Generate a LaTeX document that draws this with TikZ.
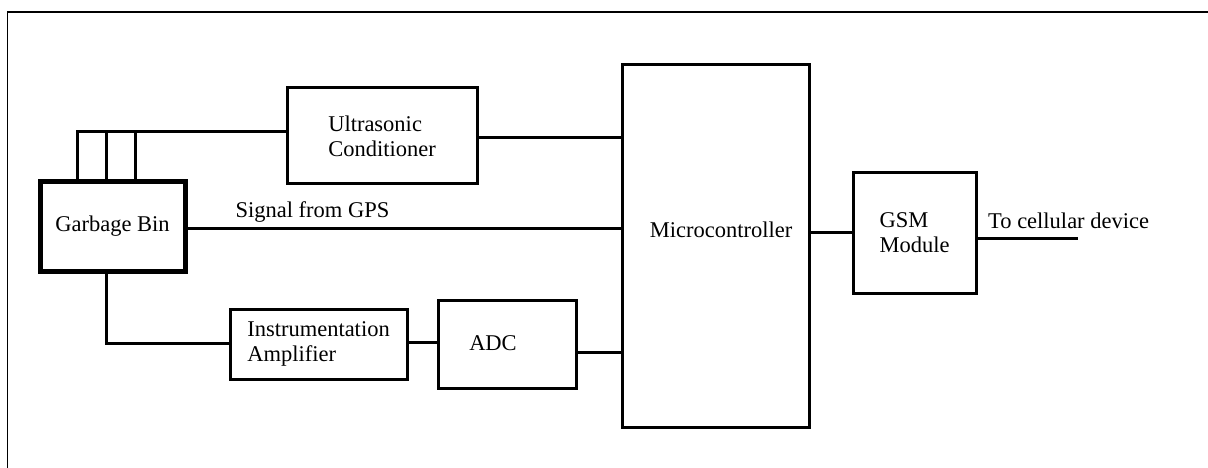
\documentclass[tikz,border=0pt]{standalone}
\usepackage{fontspec}
\setmainfont{Liberation Serif}
\tikzset{
  box/.style={draw, line width=3pt, rectangle, inner sep=0pt},
  thickbox/.style={draw, line width=5pt, rectangle, inner sep=0pt},
  wire/.style={line width=3pt},
  txt/.style={inner sep=0pt, align=left, font=\fontsize{22.5}{25}\selectfont},
  frameline/.style={line width=1.8pt}
}
\begin{document}
\begin{tikzpicture}[x=1pt,y=-1pt]
\useasboundingbox (0,0) rectangle (1208,468);
% frame
\coordinate (f1) at (7.5,468);
\coordinate (f2) at (7.5,12);
\coordinate (f3) at (1208,12);
\draw[frameline] (f1) -- (f2) -- (f3);
% boxes
\node[thickbox, minimum width=145pt, minimum height=89pt, txt] (gb) at (112.5,226.5) {Garbage Bin};
\node[box, minimum width=190pt, minimum height=96pt, txt] (us) at (382,136) {Ultrasonic\\Conditioner};
\node[box, minimum width=177pt, minimum height=70pt, txt] (ia) at (318.5,344) {Instrumentation\\Amplifier};
\node[box, minimum width=138pt, minimum height=88pt] (adc) at (507,344) {};
\node[txt] (adct) at (493,343) {ADC};
\node[box, minimum width=187pt, minimum height=362pt] (mc) at (715.5,246) {};
\node[txt] (mct) at (721,230) {Microcontroller};
\node[box, minimum width=123pt, minimum height=120pt, txt] (gsm) at (914.5,233) {GSM\\Module};
% stubs from garbage bin to ultrasonic
\coordinate (s1) at (77,132);
\coordinate (s2) at (106,132);
\coordinate (s3) at (135,132);
\draw[wire] (s1 |- gb.north) -- (s1) -- (s3) -- (us.west |- s3);
\draw[wire] (s2 |- gb.north) -- (s2);
\draw[wire] (s3 |- gb.north) -- (s3);
% ultrasonic to micro
\draw[wire] (us.east |- 0,138) -- (mc.west |- 0,138);
% GPS
\draw[wire] (gb.east |- 0,228) -- node[txt, anchor=south west, pos=0.1075, yshift=4pt] (gps) {Signal from GPS} (mc.west |- 0,228);
% garbage bin to instrumentation amplifier
\coordinate (b1) at (106,343);
\draw[wire] (b1 |- gb.south) -- (b1) -- (ia.west |- b1);
% IA to ADC
\draw[wire] (ia.east |- 0,342) -- (adc.west |- 0,342);
% ADC to micro
\draw[wire] (adc.east |- 0,352) -- (mc.west |- 0,352);
% micro to GSM
\draw[wire] (mc.east |- 0,232) -- (gsm.west |- 0,232);
% GSM out
\coordinate (out) at (1078,238);
\draw[wire] (gsm.east |- out) -- (out);
\node[txt, anchor=west] (cell) at (988,221) {To cellular device};
\end{tikzpicture}
\end{document}
